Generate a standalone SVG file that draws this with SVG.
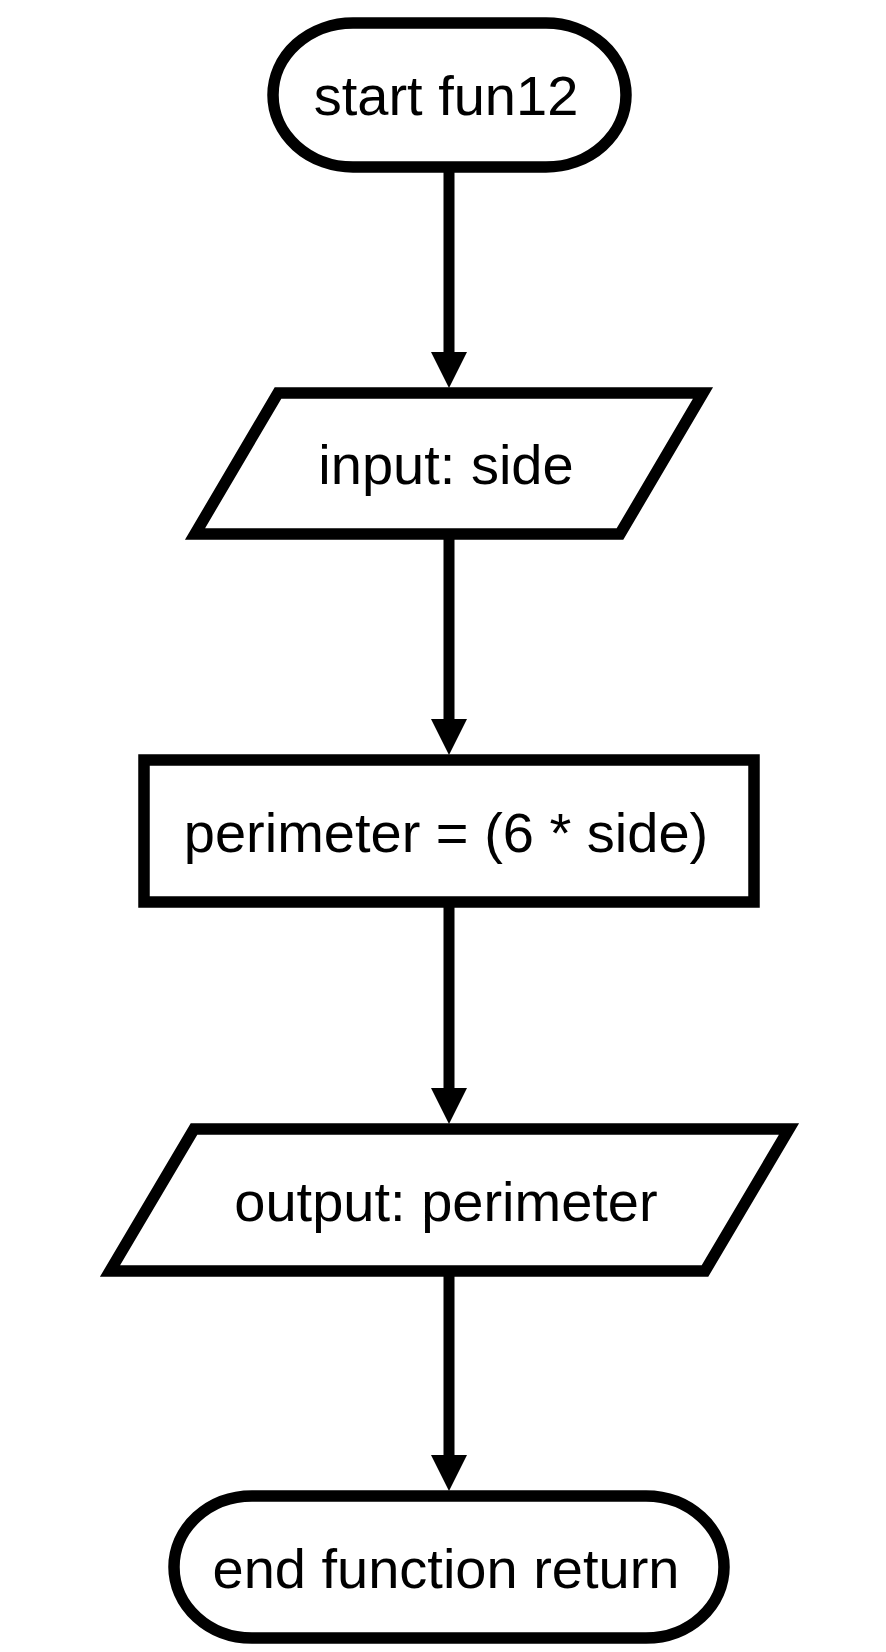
<svg xmlns="http://www.w3.org/2000/svg" width="886" height="1652" viewBox="0 0 886 1652">
  <style>
    .shape { fill: #ffffff; stroke: #000000; stroke-width: 11.5; }
    .label { font-family: "Liberation Sans", Arial, sans-serif; font-size: 56px; fill: #000000; text-anchor: middle; }
    .conn { stroke: #000000; stroke-width: 11; fill: none; marker-end: url(#arrow); }
  </style>
  <defs>
    <marker id="arrow" viewBox="0 0 36 36" refX="2" refY="18" markerWidth="36" markerHeight="36" markerUnits="userSpaceOnUse" orient="auto">
      <path d="M0,0 L36,18 L0,36 Z" fill="#000000"/>
    </marker>
  </defs>
  <rect width="886" height="1652" fill="#ffffff"/>

  <g id="connectors">
    <line class="conn" x1="449" y1="170" x2="449" y2="354"/>
    <line class="conn" x1="449" y1="537" x2="449" y2="721"/>
    <line class="conn" x1="449" y1="905" x2="449" y2="1090"/>
    <line class="conn" x1="449" y1="1274" x2="449" y2="1457"/>
  </g>

  <g id="start">
    <rect class="shape" x="273" y="23" width="353" height="144" rx="80" ry="72"/>
    <text class="label" x="446" y="115">start fun12</text>
  </g>

  <g id="input">
    <polygon class="shape" points="278,393 703,393 620,534 195,534"/>
    <text class="label" x="446" y="484">input: side</text>
  </g>

  <g id="process">
    <rect class="shape" x="144" y="760" width="610" height="142"/>
    <text class="label" x="446" y="852">perimeter = (6 * side)</text>
  </g>

  <g id="output">
    <polygon class="shape" points="194,1129 789,1129 705,1271 110,1271"/>
    <text class="label" x="446" y="1221">output: perimeter</text>
  </g>

  <g id="end">
    <rect class="shape" x="174" y="1496" width="550" height="142" rx="78" ry="71"/>
    <text class="label" x="446" y="1588">end function return</text>
  </g>
</svg>
